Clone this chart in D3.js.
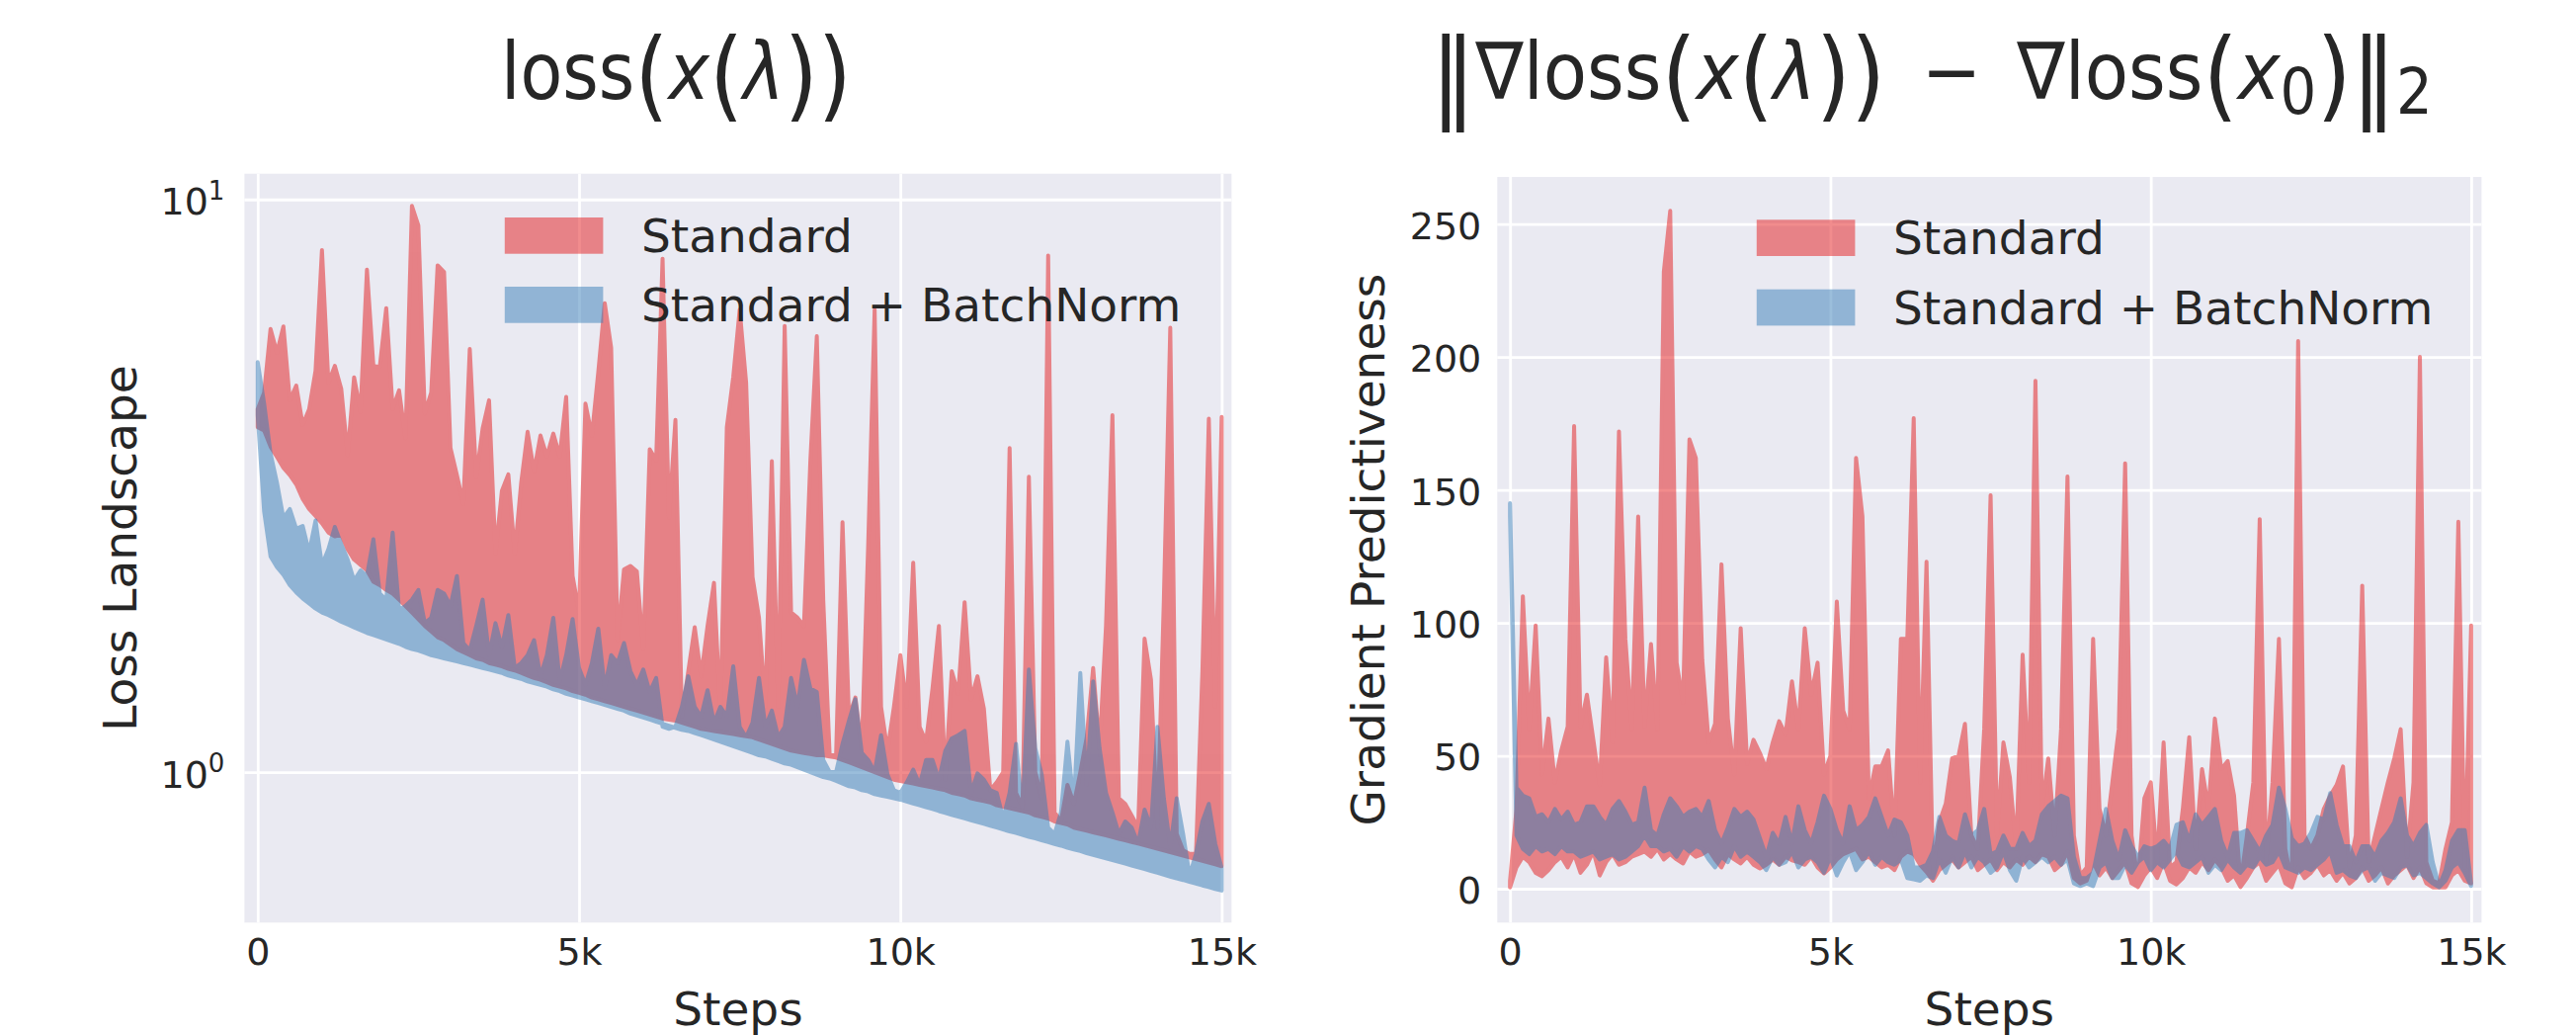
<!DOCTYPE html>
<html>
<head>
<meta charset="utf-8">
<title>loss landscape</title>
<style>
  body { margin: 0; background: #fff; }
  text { font-family: "DejaVu Sans", sans-serif; fill: #262626; }
</style>
</head>
<body>
<svg id="chart" width="2607" height="1047"></svg>
<script src="https://d3js.org/d3.v7.min.js"></script>
<script>
// steps are logged every 100 iterations
const steps = d3.range(0, 15001, 100)
const xTickValues = [0, 5000, 10000, 15000]
const xTickLabels = ['0', '5k', '10k', '15k']
const lossTickValues = [1, 10]
const lossTickExponents = ['0', '1']
const gradTickValues = [0, 50, 100, 150, 200, 250]
const seriesNames = ['Standard', 'Standard + BatchNorm']

// left panel: loss landscape (min / max envelope)
const lossStdLo = [
  4.0, 3.95, 3.70, 3.55, 3.40, 3.30, 3.18, 3.00, 2.88, 2.80,
  2.72, 2.62, 2.58, 2.60, 2.45, 2.35, 2.30, 2.25, 2.15, 2.12,
  2.08, 2.05, 2.00, 1.95, 1.90, 1.85, 1.80, 1.76, 1.72, 1.70,
  1.67, 1.64, 1.62, 1.60, 1.58, 1.57, 1.55, 1.54, 1.53, 1.515,
  1.505, 1.49, 1.475, 1.46, 1.45, 1.435, 1.42, 1.41, 1.40, 1.385,
  1.375, 1.365, 1.35, 1.34, 1.33, 1.32, 1.31, 1.30, 1.29, 1.28,
  1.27, 1.26, 1.25, 1.24, 1.235, 1.23, 1.22, 1.21, 1.20, 1.19,
  1.185, 1.18, 1.175, 1.17, 1.165, 1.16, 1.155, 1.15, 1.14, 1.13,
  1.12, 1.11, 1.10, 1.09, 1.085, 1.08, 1.075, 1.07, 1.07, 1.065,
  1.06, 1.05, 1.04, 1.03, 1.02, 1.01, 1.00, 0.99, 0.98, 0.97,
  0.965, 0.96, 0.955, 0.95, 0.945, 0.94, 0.935, 0.93, 0.92, 0.915,
  0.91, 0.90, 0.895, 0.89, 0.885, 0.875, 0.87, 0.865, 0.86, 0.855,
  0.85, 0.84, 0.835, 0.83, 0.82, 0.815, 0.81, 0.80, 0.795, 0.79,
  0.785, 0.78, 0.775, 0.77, 0.765, 0.76, 0.755, 0.75, 0.745, 0.74,
  0.735, 0.73, 0.725, 0.72, 0.715, 0.71, 0.705, 0.70, 0.695, 0.69,
  0.685
]
const lossStdHi = [
  4.3, 4.6, 5.94, 5.40, 6.0, 4.46, 4.73, 4.04, 4.3, 5.02,
  8.16, 4.79, 5.12, 4.67, 3.58, 4.89, 4.26, 7.54, 5.12, 5.1,
  6.46, 4.31, 4.64, 3.83, 9.74, 9.0, 4.23, 4.6, 7.67, 7.47,
  3.68, 3.3, 2.94, 5.48, 3.27, 3.98, 4.46, 2.41, 3.1, 3.31,
  2.41, 3.2, 3.93, 3.35, 3.87, 3.56, 3.9, 3.56, 4.52, 2.2,
  1.9, 4.4, 3.87, 5.0, 6.59, 5.51, 1.7, 2.26, 2.29, 2.24,
  1.64, 3.66, 3.5, 7.88, 2.78, 4.12, 1.25, 1.5, 1.79, 1.47,
  1.8, 2.14, 1.25, 4.0, 4.9, 6.42, 4.79, 2.19, 1.86, 1.3,
  3.49, 1.3, 6.01, 1.9, 1.86, 1.8, 3.5, 5.77, 2.0, 1.07,
  1.07, 2.73, 1.25, 1.35, 1.1, 2.5, 6.42, 1.3, 1.09, 1.3,
  1.60, 1.3, 2.32, 1.2, 1.13, 1.4, 1.8, 0.97, 1.50, 1.37,
  1.98, 1.34, 1.47, 1.29, 0.93, 0.96, 1.0, 3.68, 0.92, 0.87,
  3.28, 1.0, 0.9, 7.98, 0.85, 0.82, 0.95, 0.88, 1.0, 1.15,
  1.52, 1.1, 1.8, 4.2, 0.9, 0.88, 0.84, 0.8, 1.71, 1.45,
  0.8, 2.0, 5.97, 0.78, 0.73, 0.72, 0.72, 1.5, 4.14, 1.3,
  4.17
]
const lossBnLo = [
  4.2, 2.85, 2.38, 2.28, 2.21, 2.12, 2.06, 2.01, 1.97, 1.93,
  1.90, 1.88, 1.855, 1.83, 1.81, 1.79, 1.77, 1.75, 1.735, 1.72,
  1.705, 1.69, 1.675, 1.655, 1.64, 1.63, 1.615, 1.60, 1.59, 1.58,
  1.57, 1.56, 1.55, 1.54, 1.53, 1.52, 1.51, 1.50, 1.49, 1.475,
  1.465, 1.455, 1.44, 1.43, 1.42, 1.41, 1.395, 1.385, 1.37, 1.36,
  1.35, 1.34, 1.33, 1.32, 1.31, 1.30, 1.29, 1.28, 1.265, 1.255,
  1.245, 1.235, 1.225, 1.215, 1.205, 1.195, 1.185, 1.18, 1.17, 1.16,
  1.15, 1.14, 1.13, 1.12, 1.11, 1.10, 1.09, 1.08, 1.07, 1.065,
  1.055, 1.045, 1.035, 1.03, 1.02, 1.01, 1.0, 0.99, 0.98, 0.975,
  0.965, 0.955, 0.945, 0.94, 0.93, 0.925, 0.915, 0.91, 0.905, 0.90,
  0.895, 0.888, 0.881, 0.875, 0.868, 0.862, 0.855, 0.849, 0.842, 0.836,
  0.830, 0.824, 0.818, 0.812, 0.806, 0.800, 0.794, 0.788, 0.783, 0.777,
  0.771, 0.766, 0.760, 0.755, 0.749, 0.744, 0.738, 0.733, 0.728, 0.722,
  0.717, 0.712, 0.707, 0.702, 0.697, 0.692, 0.687, 0.682, 0.677, 0.672,
  0.667, 0.662, 0.657, 0.652, 0.648, 0.643, 0.639, 0.634, 0.630, 0.625,
  0.621
]
const lossBnHi = [
  5.2, 4.4, 3.6, 3.2, 2.78, 2.88, 2.66, 2.69, 2.42, 2.75,
  2.30, 2.45, 2.68, 2.5, 2.35, 2.16, 2.25, 2.2, 2.55, 2.05,
  2.0, 2.62, 1.92, 1.95, 2.0, 2.08, 1.82, 1.86, 2.08, 2.05,
  1.95, 2.2, 1.68, 1.63, 1.8, 2.0, 1.6, 1.82, 1.65, 1.88,
  1.52, 1.55, 1.6, 1.70, 1.47, 1.6, 1.86, 1.44, 1.6, 1.85,
  1.52, 1.42, 1.55, 1.78, 1.40, 1.6, 1.55, 1.68, 1.5, 1.42,
  1.51, 1.38, 1.46, 1.2, 1.19, 1.2, 1.3, 1.47, 1.3, 1.25,
  1.39, 1.22, 1.3, 1.25, 1.53, 1.2, 1.15, 1.22, 1.46, 1.2,
  1.28, 1.15, 1.2, 1.46, 1.3, 1.57, 1.4, 1.38, 1.05, 1.0,
  1.0, 1.12, 1.23, 1.34, 1.08, 1.05, 1.0, 1.16, 0.99, 0.93,
  0.92, 0.96, 1.01, 0.95, 1.05, 1.05, 0.97, 1.09, 1.145, 1.16,
  1.18, 0.92, 0.995, 0.97, 0.93, 0.92, 0.83, 0.92, 1.12, 0.85,
  1.51, 1.1, 0.99, 0.80, 0.78, 0.85, 1.13, 0.88, 1.49, 0.95,
  1.44, 1.1, 0.92, 0.85, 0.78, 0.82, 0.8, 0.75, 0.86, 0.8,
  1.2, 0.9, 0.74, 0.90, 0.78, 0.66, 0.72, 0.82, 0.88, 0.75,
  0.68
]

// right panel: gradient predictiveness (min / max envelope)
const gradStdLo = [
  0.5, 8, 12, 10, 6, 4.7, 7, 10, 12, 8,
  13, 6, 9, 14, 5, 10, 13, 9, 10, 12,
  13, 14, 12, 15, 11, 13, 11, 9.5, 14, 12,
  13, 14.6, 11, 8, 13, 11, 9.5, 12, 9, 7.6,
  9, 11, 9, 12, 10.7, 10, 9, 12, 8, 5.8,
  8, 11, 13, 14, 15, 11, 12, 10, 8, 9,
  7, 12, 14, 13, 9, 6.3, 3, 7, 9, 11,
  8, 10, 12, 7, 9, 11, 7, 10, 8, 11,
  9, 12, 10, 13, 12, 7, 9, 14, 4, 2,
  3, 10, 5, 8, 4, 7, 10, 2, 0.6, 5,
  8, 4, 10, 3, 1.6, 4, 8, 6, 10, 7,
  11, 8, 3, 5, 0.6, 4, 8, 10, 3, 6,
  9, 2, 0.5, 8, 4, 6, 9, 5, 7, 3,
  6, 2, 4, 8, 3, 5, 8, 2, 5, 7,
  9, 4, 8, 2, 0.5, 0.5, 0.5, 5, 7, 3,
  2
]
const gradStdHi = [
  3, 30, 110, 60, 99, 43, 64, 40, 52, 61,
  174, 61, 73, 56, 39, 87, 55, 172, 94, 60,
  140, 61, 92, 60, 232, 255, 85, 70, 169, 162,
  86, 55, 62, 122, 64, 43, 98, 47, 56, 51,
  45, 55, 63, 58, 78, 60, 98, 73, 85, 43,
  50, 108, 67, 60, 162, 140, 34, 46, 46, 52,
  20, 94, 94, 177, 40, 123, 6, 25, 32, 49,
  50, 62, 20, 15, 60, 148, 20, 55, 42, 15,
  88, 40, 191, 30, 49, 20, 60, 155, 20, 5,
  8, 94, 30, 20, 40, 60, 160, 20, 3, 34,
  40, 10, 55, 8, 10, 30, 57, 15, 45, 30,
  64, 45, 48, 35, 2, 20, 40, 139, 10, 40,
  94, 15, 2, 206, 20, 15, 20, 30, 35, 39,
  46, 8, 20, 114, 10, 20, 30, 40, 49, 60,
  12, 40, 200, 10, 3, 2, 15, 25, 138, 8,
  99
]
const gradBnLo = [
  140, 20, 15, 13, 16, 14, 15, 13, 16, 14,
  14, 12, 13, 14, 11, 12, 13, 11, 12, 14,
  16, 20, 16, 16, 14, 15, 12, 16, 14, 16,
  15, 11, 8, 12, 10, 16, 12, 14, 12, 10,
  7, 12, 9, 10, 14, 8, 11, 12, 10, 6,
  12, 5, 10, 14, 7, 10, 14, 9, 12, 10,
  9, 11, 4, 3.5, 3, 5, 4, 11, 6, 12,
  8, 14, 8, 12, 10, 6, 8, 14, 7, 3,
  12, 8, 10, 12, 10, 12, 9, 11, 2, 1,
  2, 1, 8, 10, 4, 4, 9, 6, 10, 12,
  7, 10, 8, 11, 14, 9, 8, 10, 12, 6,
  9, 7, 11, 8, 6, 9, 8, 12, 9, 10,
  14, 8, 7, 6, 8, 7, 9, 11, 14, 6,
  7, 5, 4, 7, 8, 3, 6, 5, 4, 8,
  9, 5, 6, 4, 2, 0.5, 3, 8, 10, 6,
  1
]
const gradBnHi = [
  145, 38, 35, 34, 27, 28, 25, 30, 26, 29,
  24, 25, 31, 31, 27, 24, 30, 33, 29, 24,
  25, 38, 22, 20, 28, 34, 31, 27, 29, 30,
  27, 33, 22, 17, 23, 30, 27, 29, 26, 19,
  12, 21, 17, 27, 17, 31, 22, 17, 25, 35,
  30, 22, 17, 31, 22, 24, 27, 34, 27, 20,
  26, 25, 20, 8, 8, 9, 14, 27, 20, 18,
  17, 28, 20, 22, 30, 13, 14, 20, 15, 15,
  21, 16, 18, 28, 31, 33, 35, 34, 12, 4,
  4, 6, 18, 30, 18, 11, 22, 16, 12, 16,
  15, 16, 18, 15, 24, 25, 18, 28, 24, 27,
  30, 18, 12, 21, 21, 22, 18, 14, 20, 24,
  38, 30, 19, 16, 17, 21, 27, 26, 36, 24,
  16, 16, 10, 16, 16, 12, 18, 21, 25, 34,
  20, 16, 21, 24, 10, 1, 7, 18, 22, 22,
  2
]

const colors = ['#e41a1c', '#377eb8']
const svg = d3.select('#chart')

function drawPanel(p) {
  const g = svg.append('g')
  const x = d3.scaleLinear().domain(p.xDomain).range([p.left, p.right])
  const y = (p.log ? d3.scaleLog() : d3.scaleLinear())
    .domain(p.yDomain)
    .range([p.bottom, p.top])

  g.append('rect')
    .attr('x', p.left).attr('y', p.top)
    .attr('width', p.right - p.left).attr('height', p.bottom - p.top)
    .attr('fill', '#eaeaf2')

  // white grid, drawn below the data
  g.append('g').attr('class', 'grid')
    .attr('transform', `translate(0,${p.bottom})`)
    .call(d3.axisBottom(x).tickValues(xTickValues).tickSize(-(p.bottom - p.top)).tickFormat(''))
  g.append('g').attr('class', 'grid')
    .attr('transform', `translate(${p.left},0)`)
    .call(d3.axisLeft(y).tickValues(p.yTicks).tickSize(-(p.right - p.left)).tickFormat(''))
  g.selectAll('.grid .domain').remove()
  g.selectAll('.grid line').attr('stroke', '#fff').attr('stroke-width', 2.8)

  svg.append('clipPath').attr('id', 'clip-' + p.id)
    .append('rect')
    .attr('x', p.left).attr('y', p.top)
    .attr('width', p.right - p.left).attr('height', p.bottom - p.top)

  const idx = d3.range(steps.length)
  p.series.forEach((s, k) => {
    const area = d3.area()
      .x(i => x(steps[i]))
      .y0(i => y(s.lo[i]))
      .y1(i => y(s.hi[i]))
    g.append('g')
      .attr('clip-path', `url(#clip-${p.id})`)
      .attr('opacity', 0.5)
      .append('path')
      .datum(idx)
      .attr('d', area)
      .attr('fill', colors[k])
      .attr('stroke', colors[k])
      .attr('stroke-width', 4)
      .attr('stroke-linejoin', 'round')
  })

  // legend (no frame)
  seriesNames.forEach((name, k) => {
    const top = p.legend.y + k * p.legend.gap
    g.append('rect')
      .attr('x', p.legend.x).attr('y', top)
      .attr('width', 99.6).attr('height', 36.7)
      .attr('fill', colors[k]).attr('opacity', 0.5)
    g.append('text')
      .attr('x', p.legend.x + 138.2).attr('y', top + 35)
      .attr('font-size', 47)
      .text(name)
  })

  // tick labels
  const xAxis = g.append('g')
    .attr('transform', `translate(0,${p.bottom})`)
    .call(d3.axisBottom(x).tickValues(xTickValues).tickSize(0).tickPadding(16)
      .tickFormat((d, i) => xTickLabels[i]))
  xAxis.attr('font-size', 38)
  xAxis.select('.domain').remove()

  const yAxis = g.append('g')
    .attr('transform', `translate(${p.left},0)`)
  if (p.log) {
    yAxis.call(d3.axisLeft(y).tickValues(p.yTicks).tickSize(0).tickPadding(20).tickFormat(''))
    yAxis.selectAll('.tick text').each(function (d, i) {
      const t = d3.select(this).attr('dy', '0.40em')
      t.append('tspan').text('10')
      t.append('tspan').attr('font-size', 26).attr('dy', '-0.6em').text(lossTickExponents[i])
    })
  } else {
    yAxis.call(d3.axisLeft(y).tickValues(p.yTicks).tickSize(0).tickPadding(16))
    yAxis.selectAll('.tick text').attr('dy', '0.38em')
  }
  yAxis.attr('font-size', 38)
  yAxis.select('.domain').remove()

  g.append('text')
    .attr('x', (p.left + p.right) / 2).attr('y', 1037)
    .attr('text-anchor', 'middle').attr('font-size', 47)
    .text('Steps')
  g.append('text')
    .attr('transform', `translate(${p.yLabelX},${(p.top + p.bottom) / 2}) rotate(-90)`)
    .attr('text-anchor', 'middle').attr('font-size', 47)
    .text(p.yLabel)
}

// math title: tspans, then stretched to the measured extent
function drawTitle(parts, x0, x1, baseline) {
  const t = svg.append('text').attr('x', 0).attr('y', baseline)
  let shift = 0
  parts.forEach(q => {
    t.append('tspan')
      .attr('font-size', q.size)
      .attr('font-style', q.italic ? 'italic' : null)
      .attr('dy', q.shift - shift)
      .text(q.text)
    shift = q.shift
  })
  const b = t.node().getBBox()
  const k = (x1 - x0) / b.width
  t.attr('transform', `translate(${x0 - b.x * k},0) scale(${k},1)`)
}

drawPanel({
  id: 'loss', log: true,
  left: 247.4, right: 1246.4, top: 175.7, bottom: 933.3,
  xDomain: [-206, 15154], yDomain: [0.546, 11.09], yTicks: lossTickValues,
  series: [{ lo: lossStdLo, hi: lossStdHi }, { lo: lossBnLo, hi: lossBnHi }],
  legend: { x: 510.8, y: 220, gap: 70 },
  yLabel: 'Loss Landscape', yLabelX: 138
})
drawPanel({
  id: 'grad', log: false,
  left: 1515.3, right: 2511.4, top: 179, bottom: 933.3,
  xDomain: [-199, 15162], yDomain: [-12.75, 267.7], yTicks: gradTickValues,
  series: [{ lo: gradStdLo, hi: gradStdHi }, { lo: gradBnLo, hi: gradBnHi }],
  legend: { x: 1777.8, y: 222.3, gap: 70.4 },
  yLabel: 'Gradient Predictiveness', yLabelX: 1401
})

drawTitle([
  { text: 'loss', size: 80, shift: 0 },
  { text: '(', size: 100, shift: 10 },
  { text: 'x', size: 80, shift: 0, italic: true },
  { text: '(', size: 100, shift: 10 },
  { text: 'λ', size: 80, shift: 0, italic: true },
  { text: '))', size: 100, shift: 10 }
], 507, 862, 100)

drawTitle([
  { text: '‖', size: 100, shift: 10 },
  { text: '∇loss', size: 80, shift: 0 },
  { text: '(', size: 100, shift: 10 },
  { text: 'x', size: 80, shift: 0, italic: true },
  { text: '(', size: 100, shift: 10 },
  { text: 'λ', size: 80, shift: 0, italic: true },
  { text: '))', size: 100, shift: 10 },
  { text: '\u2002−\u2002∇loss', size: 80, shift: 0 },
  { text: '(', size: 100, shift: 10 },
  { text: 'x', size: 80, shift: 0, italic: true },
  { text: '0', size: 64, shift: 15 },
  { text: ')‖', size: 100, shift: 10 },
  { text: '2', size: 64, shift: 15 }
], 1448, 2462, 100)
</script>
</body>
</html>
